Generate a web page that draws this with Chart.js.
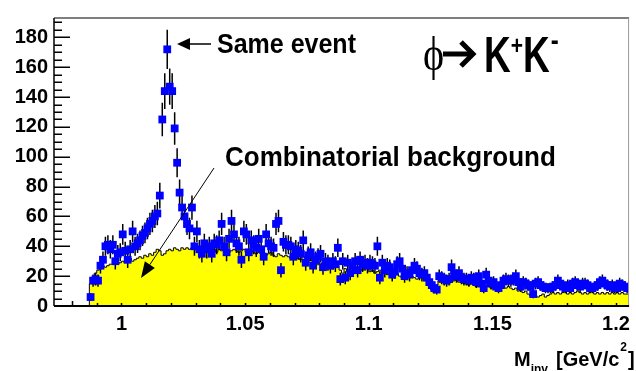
<!DOCTYPE html>
<html>
<head>
<meta charset="utf-8">
<script src="https://cdn.jsdelivr.net/npm/chart.js@4/dist/chart.umd.min.js"></script>
<style>
  body { margin: 0; background: #fff; }
  #mass { display: block; }
</style>
</head>
<body>
<canvas id="mass" width="636" height="371"></canvas>
<script>
// K+K- invariant mass, 1 MeV bins starting at threshold
const binLow = 0.987;
const binWidth = 0.001;

// same-event pairs (counts per bin)
const sameEvent = [
  6, 17, 18, 17, 27, 31, 40, 41, 38, 41,
  30, 35, 36, 48, 37, 31, 38, 50, 40, 42,
  44, 47, 49, 52, 55, 57, 60, 62, 74, 125,
  144, 172, 147, 144, 119, 96, 76, 66, 60, 55,
  52, 66, 40, 50, 38, 35, 42, 38, 40, 35,
  42, 41, 44, 55, 40, 36, 45, 57, 48, 42,
  40, 31, 50, 48, 36, 44, 41, 39, 45, 38,
  33, 48, 42, 40, 39, 55, 57, 24, 43, 41,
  41, 40, 33, 38, 37, 35, 44, 29, 34, 36,
  27, 31, 33, 35, 26, 30, 29, 27, 30, 28,
  39, 18, 30, 19, 29, 22, 27, 30, 24, 31,
  28, 29, 27, 29, 28, 27, 40, 19, 29, 24,
  27, 26, 21, 23, 28, 30, 25, 20, 22, 21,
  24, 27, 25, 22, 21, 22, 19, 16, 14, 12,
  11, 20, 19, 18, 17, 18, 26, 21, 20, 22,
  19, 18, 18, 17, 19, 18, 16, 20, 15, 12,
  21, 17, 15, 16, 13, 12, 14, 17, 18, 17,
  17, 18, 20, 16, 13, 16, 15, 14, 13, 8,
  15, 16, 14, 13, 12, 12, 12, 13, 14, 17,
  15, 13, 12, 14, 12, 15, 16, 14, 13, 15,
  15, 14, 12, 12, 13, 14, 16, 17, 15, 14,
  13, 14, 12, 12, 15, 14, 13, 12
];

// mixed-event combinatorial background (normalised)
const combBkg = [
  10, 15, 19, 22, 24, 26, 27, 26, 27, 28,
  28, 29, 28, 29, 30, 29, 31, 32, 30, 31,
  32, 33, 32, 34, 33, 35, 34, 36, 38, 37,
  34, 35, 37, 38, 37, 39, 38, 37, 39, 38,
  39, 38, 39, 40, 38, 39, 37, 38, 39, 38,
  37, 38, 36, 38, 37, 39, 38, 36, 37, 38,
  37, 36, 37, 38, 36, 35, 37, 36, 35, 36,
  35, 36, 34, 35, 36, 34, 33, 35, 34, 33,
  34, 33, 32, 34, 33, 32, 31, 33, 32, 30,
  31, 30, 29, 30, 28, 29, 30, 28, 29, 27,
  28, 27, 24, 22, 25, 23, 26, 25, 24, 26,
  25, 24, 26, 25, 23, 24, 22, 23, 24, 22,
  23, 21, 22, 20, 21, 22, 20, 19, 21, 20,
  19, 20, 19, 18, 20, 19, 17, 18, 15, 11,
  9, 14, 17, 16, 17, 18, 17, 16, 18, 17,
  16, 17, 15, 16, 14, 15, 14, 13, 14, 13,
  12, 13, 14, 12, 13, 11, 12, 13, 14, 12,
  13, 12, 11, 12, 10, 11, 9, 10, 8, 7,
  8, 7, 6, 7, 8, 6, 7, 8, 9, 8,
  9, 8, 9, 10, 8, 9, 8, 9, 10, 9,
  8, 9, 8, 9, 10, 8, 9, 8, 9, 8,
  9, 8, 9, 8, 9, 8, 9, 8
];

const xTicks = [1, 1.05, 1.1, 1.15, 1.2];
const yTicks = [0, 20, 40, 60, 80, 100, 120, 140, 160, 180];

const FONT = "'Liberation Sans', Arial, sans-serif";

// points at bin centres
const samePts = sameEvent.map((v, i) => ({ x: binLow + (i + 0.5) * binWidth, y: v }));
// histogram outline: left edges, plus a closing right edge
const bkgPts = [{ x: binLow, y: 0 }].concat(
  combBkg.map((v, i) => ({ x: binLow + i * binWidth, y: v })),
  [{ x: binLow + combBkg.length * binWidth, y: combBkg[combBkg.length - 1] }]
);

function txt(ctx, s, x, y, font, sy) {
  ctx.save();
  ctx.font = font;
  ctx.translate(x, y);
  ctx.scale(1, sy || 1);
  ctx.fillText(s, 0, 0);
  const w = ctx.measureText(s).width;
  ctx.restore();
  return w;
}

const errorBars = {
  id: 'errorBars',
  beforeDatasetDraw(chart, args) {
    if (args.index !== 0) return;
    const { ctx, chartArea: a, scales: { x, y } } = chart;
    ctx.save();
    ctx.beginPath();
    ctx.rect(a.left, a.top, a.right - a.left, a.bottom - a.top);
    ctx.clip();
    ctx.strokeStyle = '#000';
    ctx.lineWidth = 1.5;
    ctx.beginPath();
    samePts.forEach(p => {
      const e = Math.sqrt(p.y);
      const px = x.getPixelForValue(p.x);
      ctx.moveTo(px, y.getPixelForValue(p.y + e));
      ctx.lineTo(px, y.getPixelForValue(Math.max(p.y - e, 0)));
    });
    ctx.stroke();
    ctx.restore();
  }
};

const frame = {
  id: 'frame',
  afterDraw(chart) {
    const { ctx, chartArea: a, scales: { x, y } } = chart;
    ctx.save();
    // frame
    ctx.strokeStyle = '#555';
    ctx.lineWidth = 1.5;
    ctx.beginPath();
    ctx.moveTo(a.left, a.top); ctx.lineTo(a.right, a.top);
    ctx.stroke();
    ctx.strokeStyle = '#999';
    ctx.lineWidth = 1;
    ctx.beginPath();
    ctx.moveTo(a.right - 0.5, a.top); ctx.lineTo(a.right - 0.5, a.bottom);
    ctx.stroke();
    ctx.strokeStyle = '#000';
    ctx.lineWidth = 1.5;
    ctx.beginPath();
    ctx.moveTo(a.left, a.top); ctx.lineTo(a.left, a.bottom);
    ctx.stroke();
    ctx.lineWidth = 2;
    ctx.beginPath();
    ctx.moveTo(a.left, a.bottom); ctx.lineTo(a.right, a.bottom);
    ctx.stroke();

    // inward ticks on y
    ctx.lineWidth = 1.5;
    ctx.beginPath();
    for (let v = 0; v <= 190; v += 5) {
      const py = Math.round(y.getPixelForValue(v)) + 0.25;
      ctx.moveTo(a.left, py);
      ctx.lineTo(a.left + (v % 20 === 0 ? 16 : 8), py);
    }
    // short ticks on x
    for (let k = 98; k <= 120; k++) {
      const px = Math.round(x.getPixelForValue(k / 100)) + 0.5;
      ctx.moveTo(px, a.bottom);
      ctx.lineTo(px, a.bottom - (k === 98 ? 5 : 3));
    }
    ctx.stroke();

    ctx.fillStyle = '#000';
    ctx.textBaseline = 'alphabetic';
    ctx.textAlign = 'left';

    // "Same event" label with arrow
    txt(ctx, 'Same event', 217, 53, 'bold 25px ' + FONT, 1.1);
    ctx.lineWidth = 1.5;
    ctx.beginPath();
    ctx.moveTo(211, 44); ctx.lineTo(188, 44);
    ctx.stroke();
    ctx.beginPath();
    ctx.moveTo(177, 44); ctx.lineTo(190, 38); ctx.lineTo(190, 50); ctx.closePath();
    ctx.fill();

    // background label with arrow
    txt(ctx, 'Combinatorial background', 225, 166, 'bold 26px ' + FONT, 1.05);
    const tip = [141, 278], tail = [214, 168];
    const dx = tip[0] - tail[0], dy = tip[1] - tail[1];
    const len = Math.hypot(dx, dy), ux = dx / len, uy = dy / len;
    const bx = tip[0] - 16 * ux, by = tip[1] - 16 * uy;
    ctx.lineWidth = 1;
    ctx.beginPath();
    ctx.moveTo(tail[0], tail[1]); ctx.lineTo(bx, by);
    ctx.stroke();
    ctx.beginPath();
    ctx.moveTo(tip[0], tip[1]);
    ctx.lineTo(bx - 6 * uy, by + 6 * ux);
    ctx.lineTo(bx + 6 * uy, by - 6 * ux);
    ctx.closePath();
    ctx.fill();

    // decay channel
    txt(ctx, 'ϕ', 423, 70, '40px "Liberation Serif", "DejaVu Serif", serif', 1.2);
    ctx.lineWidth = 5;
    ctx.lineJoin = 'miter';
    ctx.beginPath();
    ctx.moveTo(443, 54); ctx.lineTo(471, 54);
    ctx.stroke();
    ctx.beginPath();
    ctx.moveTo(461, 42); ctx.lineTo(473, 54); ctx.lineTo(461, 66);
    ctx.stroke();
    let cx = 484;
    cx += txt(ctx, 'K', cx, 72, 'bold 37px ' + FONT, 1.35);
    cx += txt(ctx, '+', cx, 54, 'bold 21px ' + FONT, 1.2);
    cx += txt(ctx, 'K', cx, 72, 'bold 37px ' + FONT, 1.35);
    txt(ctx, '-', cx + 1, 50, 'bold 24px ' + FONT, 1.2);

    // axis title
    let tx = 514;
    tx += txt(ctx, 'M', tx, 366, 'bold 20px ' + FONT);
    tx += txt(ctx, 'inv', tx, 373, 'bold 12px ' + FONT);
    tx += 8;
    tx += txt(ctx, '[GeV/c', tx, 366, 'bold 20px ' + FONT);
    tx += txt(ctx, '2', tx + 1, 351, 'bold 12px ' + FONT) + 2;
    txt(ctx, ']', tx, 366, 'bold 20px ' + FONT);
    ctx.restore();
  }
};

const ctx = document.getElementById('mass').getContext('2d');
const massChart = new Chart(ctx, {
  type: 'scatter',
  data: {
    datasets: [
      {
        type: 'scatter',
        label: 'Same event',
        data: samePts,
        pointStyle: 'rect',
        pointRadius: 5.5,
        backgroundColor: '#0000ff',
        borderWidth: 0,
        order: 0
      },
      {
        type: 'line',
        label: 'Combinatorial background',
        data: bkgPts,
        stepped: 'after',
        fill: 'origin',
        backgroundColor: '#ffff00',
        borderColor: '#000',
        borderWidth: 1,
        pointRadius: 0,
        order: 1
      }
    ]
  },
  options: {
    responsive: false,
    animation: false,
    layout: { padding: { top: 13, right: 2, left: 0, bottom: 0 } },
    plugins: { legend: { display: false }, tooltip: { enabled: false } },
    scales: {
      x: {
        type: 'linear',
        min: 0.9727,
        max: 1.2053,
        afterBuildTicks: s => { s.ticks = xTicks.map(v => ({ value: v })); },
        afterFit: s => { s.height = 65; },
        grid: { display: false, drawTicks: false },
        border: { display: false },
        ticks: {
          padding: 6,
          color: '#000',
          font: { family: FONT, size: 20, weight: 'bold' },
          callback: v => String(v)
        }
      },
      y: {
        min: 0,
        max: 193,
        afterBuildTicks: s => { s.ticks = yTicks.map(v => ({ value: v })); },
        afterFit: s => { s.width = 54; },
        grid: { display: false, drawTicks: false },
        border: { display: false },
        ticks: {
          padding: 6,
          color: '#000',
          font: { family: FONT, size: 20, weight: 'bold' }
        }
      }
    }
  },
  plugins: [errorBars, frame]
});
</script>
</body>
</html>
